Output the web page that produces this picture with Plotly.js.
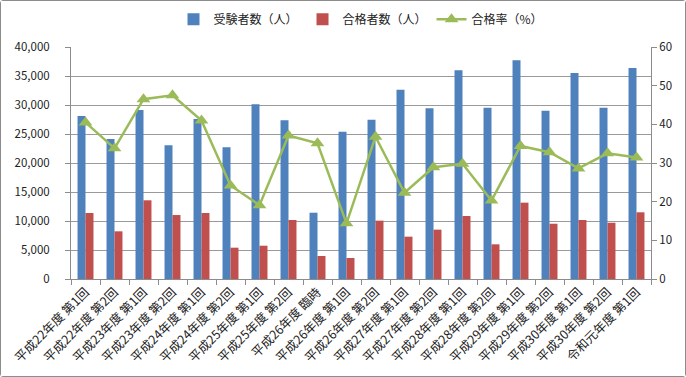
<!DOCTYPE html>
<html><head><meta charset="utf-8">
<script src="https://cdn.plot.ly/plotly-3.0.1.min.js"></script>
<style>
html,body{margin:0;padding:0;background:#fff;}
#chart{width:684px;height:375px;border:1px solid #8c8c8c;border-radius:3px;}
</style></head>
<body><div id="chart"></div>
<script>
const categories = ["平成22年度 第1回","平成22年度 第2回","平成23年度 第1回","平成23年度 第2回","平成24年度 第1回","平成24年度 第2回","平成25年度 第1回","平成25年度 第2回","平成26年度 臨時","平成26年度 第1回","平成26年度 第2回","平成27年度 第1回","平成27年度 第2回","平成28年度 第1回","平成28年度 第2回","平成29年度 第1回","平成29年度 第2回","平成30年度 第1回","平成30年度 第2回","令和元年度 第1回"];
const examinees = [28100,24140,29140,23050,27590,22700,30120,27360,11430,25400,27470,32640,29430,35980,29540,37700,29020,35520,29540,36380];
const passers = [11380,8220,13570,11030,11380,5400,5740,10170,3970,3620,10060,7300,8510,10860,5980,13160,9530,10170,9700,11500];
const passRate = [40.5,33.8,46.5,47.5,41.0,24.2,19.1,37.1,35.1,14.4,36.8,22.3,28.9,29.8,20.3,34.4,32.8,28.6,32.5,31.4];

const font = '"Noto Sans CJK JP", "Noto Sans", sans-serif';
const traces = [
  {type:'bar', name:'受験者数（人）', x:categories, y:examinees, marker:{color:'#4F81BD'}},
  {type:'bar', name:'合格者数（人）', x:categories, y:passers, marker:{color:'#C0504D'}},
  {type:'scatter', mode:'lines+markers', name:'合格率（%）', x:categories, y:passRate, yaxis:'y2',
   line:{color:'#9BBB59', width:2.5}, marker:{symbol:'triangle-up', size:12, color:'#9BBB59'}}
];
const layout = {
  width:684, height:375,
  margin:{l:70, r:34, t:46, b:97, autoexpand:false},
  paper_bgcolor:'#fff', plot_bgcolor:'#fff',
  font:{family:font, size:12, color:'#222'},
  barmode:'group', bargap:0.45, bargroupgap:0,
  showlegend:true,
  legend:{orientation:'h', x:0.5, xanchor:'center', y:1.12, yanchor:'middle', font:{size:12}, traceorder:'normal'},
  xaxis:{type:'category', range:[-0.5, categories.length-0.5], automargin:false, tickson:'boundaries', ticks:'outside', ticklen:5, tickcolor:'#8c8c8c',
    showline:true, linecolor:'#8c8c8c', tickangle:-45, tickfont:{size:12.5}, showgrid:false},
  yaxis:{automargin:false, range:[0,40000], dtick:5000, tickformat:',d', showline:true, linecolor:'#8c8c8c',
    ticks:'outside', ticklen:5, tickcolor:'#8c8c8c', gridcolor:'#9a9a9a', tickfont:{size:11.5}, ticklabelstandoff:13, zeroline:false},
  yaxis2:{automargin:false, range:[0,60], dtick:10, overlaying:'y', side:'right', showline:true, linecolor:'#8c8c8c',
    ticks:'outside', ticklen:5, tickcolor:'#8c8c8c', showgrid:false, tickfont:{size:11.5}, zeroline:false}
};
Plotly.newPlot('chart', traces, layout, {displayModeBar:false, staticPlot:true});
</script></body></html>
